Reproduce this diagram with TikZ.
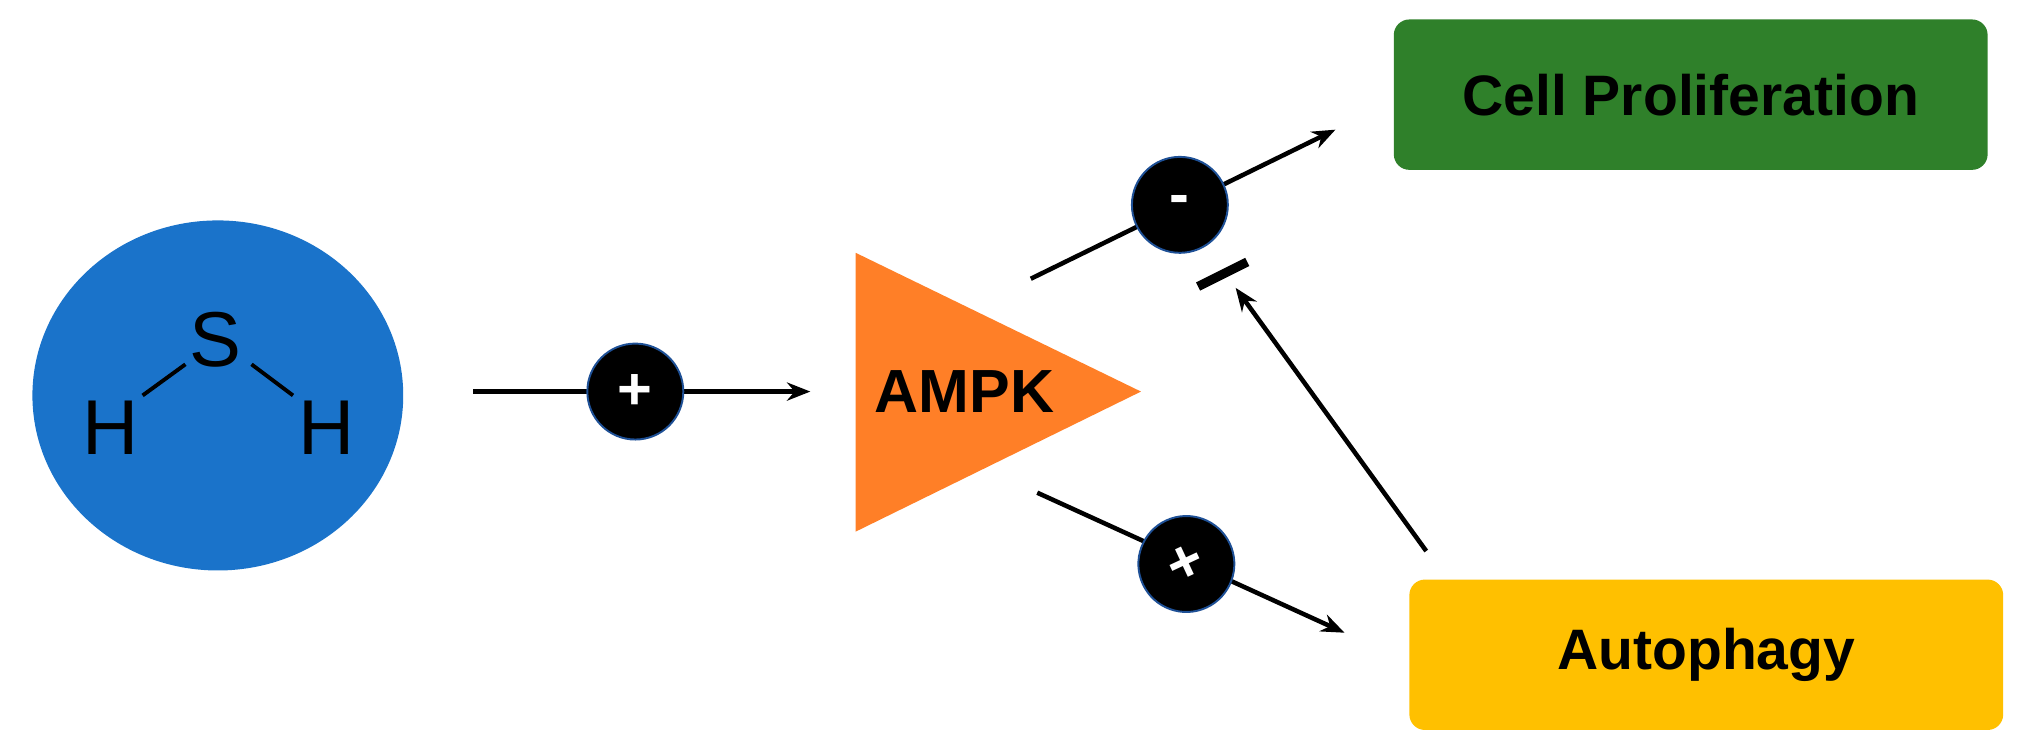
\documentclass[tikz,border=0pt]{standalone}
\usepackage{fontspec}
\setmainfont{Liberation Sans}
\usetikzlibrary{arrows.meta}
\begin{document}
\begin{tikzpicture}[x=1pt,y=-1pt,
  sign/.style={circle,fill=black,draw={rgb,255:red,30;green,80;blue,150},line width=1.5pt,minimum size=74pt,inner sep=0pt,text=white,font=\fontsize{46}{46}\selectfont\bfseries},
  ln/.style={line width=3.5pt},
  arr/.style={ln,-{Stealth[length=18pt,width=14pt]}},
  box/.style={rounded corners=12pt,minimum width=458pt,minimum height=116pt,font=\fontsize{44}{46}\selectfont\bfseries}]
\useasboundingbox (0,0) rectangle (1568,581);
\definecolor{hblue}{RGB}{26,115,202}
\definecolor{amp}{RGB}{255,127,39}
\definecolor{gr}{RGB}{47,128,42}
\definecolor{yl}{RGB}{255,192,0}
\fill[hblue] (168,305) ellipse [x radius=143, y radius=135];
\node[font=\fontsize{60}{60}\selectfont] (S) at (166,262) {S};
\node[font=\fontsize{60}{60}\selectfont] (H1) at (85,330) {H};
\node[font=\fontsize{60}{60}\selectfont] (H2) at (252,330) {H};
\draw[line width=3pt] (110,305) -- (143,281);
\draw[line width=3pt] (194,281) -- (226,305);
\fill[amp] (660,195) -- (660,410) -- (880,302) -- cycle;
\node[font=\fontsize{47}{47}\selectfont\bfseries] (ampk) at (744,302) {AMPK};
\node[box,fill=gr] (cp) at (1304,73) {Cell Proliferation};
\node[box,fill=yl] (au) at (1316,505) {Autophagy};
\coordinate (a0) at (365,302); \coordinate (a1) at (625,302);
\draw[arr] (a0) -- (a1);
\node[sign] (p1) at (490,302) {+};
\coordinate (b0) at (795,215); \coordinate (b1) at (1030,100);
\draw[arr] (b0) -- (b1);
\node[sign] (m1) at (910,158) {-};
\coordinate (c0) at (800,380); \coordinate (c1) at (1037,488);
\draw[arr] (c0) -- (c1);
\node[sign,rotate=25] (p2) at (915,435) {+};
\coordinate (d0) at (1100,425); \coordinate (d1) at (953,222);
\draw[arr] (d0) -- (d1);
\draw[line width=7pt] (924,221) -- (962,202);
\end{tikzpicture}
\end{document}
